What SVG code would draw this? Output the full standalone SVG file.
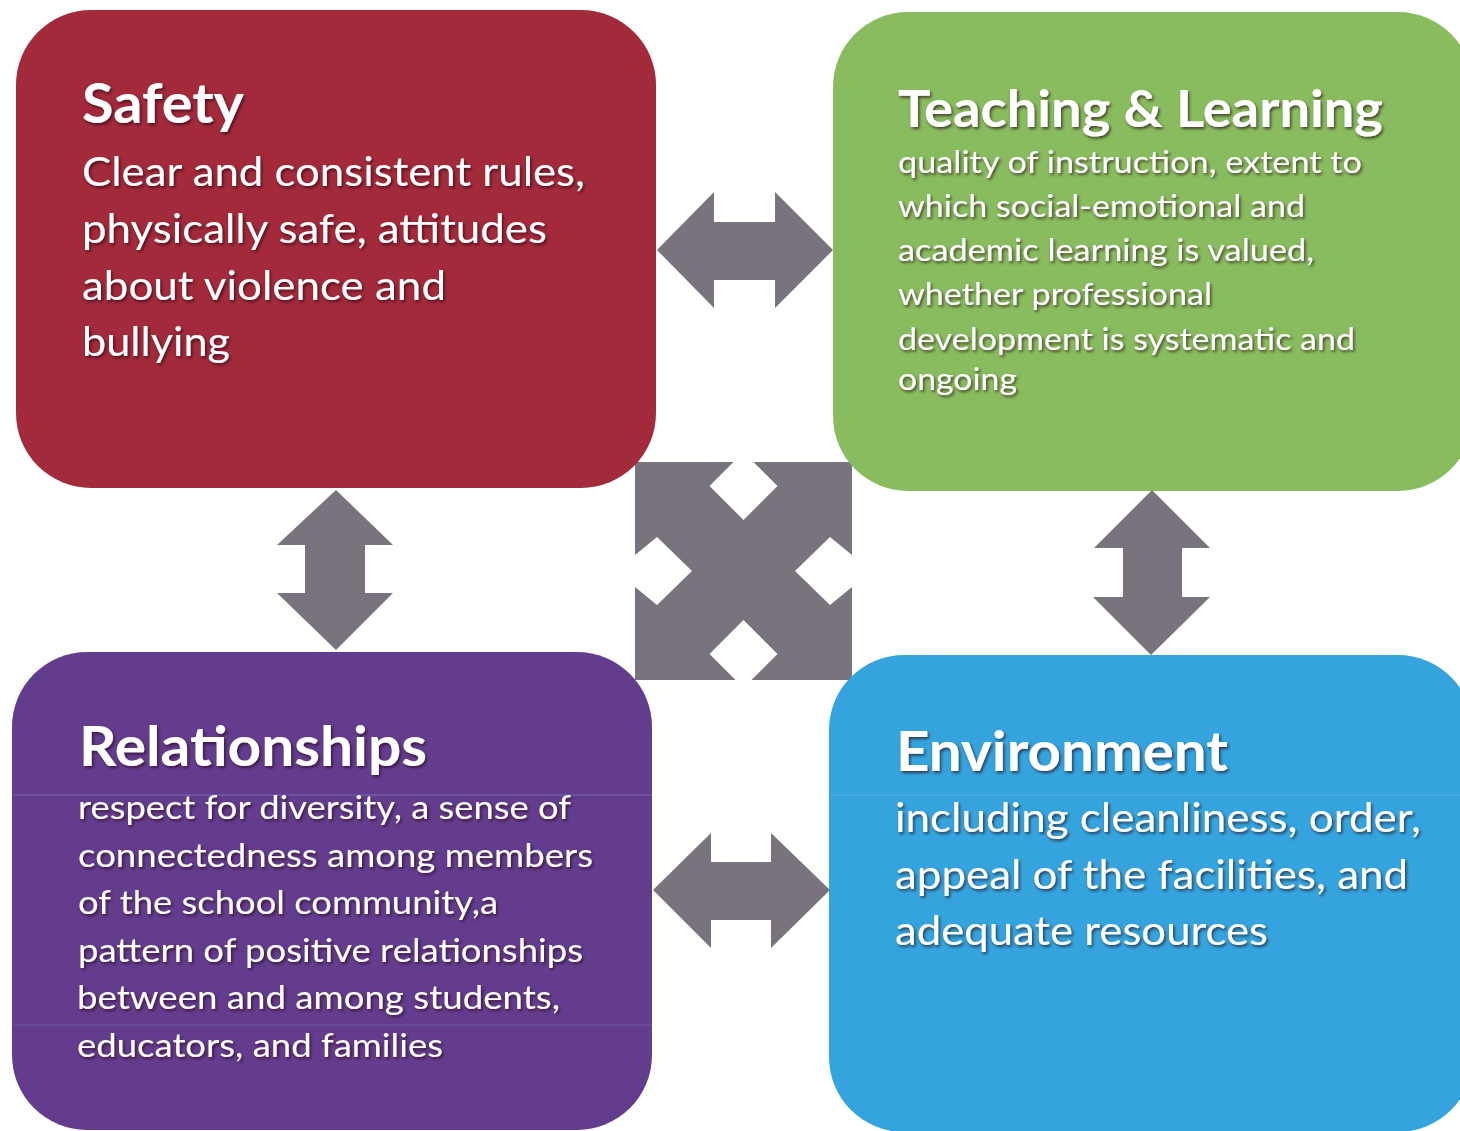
<svg xmlns="http://www.w3.org/2000/svg" width="1460" height="1131" viewBox="0 0 1460 1131">
<defs>
<filter id="sh" x="-5%" y="-20%" width="110%" height="140%">
<feDropShadow dx="1.5" dy="2" stdDeviation="1.6" flood-color="#200010" flood-opacity="0.65"/>
</filter>
<style>
.box{stroke:none}
.t{font-family:Lato,"Open Sans","Noto Sans",sans-serif;fill:#ffffff;filter:url(#sh)}
.h{font-weight:bold}
.arr{fill:#78737d}
.scan{stroke-width:1.5;fill:none}
</style>
</defs>
<rect width="1460" height="1131" fill="#ffffff"/>

<g id="connectors">
<polygon class="arr" points="657,250 714,192 714,222 775,222 775,192 833,250 775,308 775,280 714,280 714,308"/>
<polygon class="arr" points="336,490 393,545 365,545 365,593 393,593 336,650 277,593 305,593 305,545 277,545"/>
<polygon class="arr" points="1152,490 1210,548 1182,548 1182,597 1210,597 1151,655 1093,597 1123,597 1123,548 1094,548"/>
<polygon class="arr" points="653,890 711,833 711,862 771,862 771,833 830,890 771,948 771,920 711,920 711,948"/>
<path class="arr" d="M635,462 L733.5,462 L709.5,486 L743.5,520 L777.5,486 L753.5,462 L852,462 L852,555 L830,537 L795,571 L830,605 L852,587 L852,680 L751.5,680 L777.5,654 L743.5,620 L709.5,654 L735.5,680 L635,680 L635,587 L657,605 L692,571 L657,537 L635,555 Z"/>
</g>

<g id="safety">
<rect class="box" x="16" y="10" width="640" height="478" rx="75" fill="#a32a3b"/>
<text class="t h" x="82" y="123" font-size="55" textLength="162" lengthAdjust="spacingAndGlyphs">Safety</text>
<text class="t" x="82" y="186" font-size="41" textLength="503" lengthAdjust="spacingAndGlyphs">Clear and consistent rules,</text>
<text class="t" x="82" y="243" font-size="41" textLength="465" lengthAdjust="spacingAndGlyphs">physically safe, attitudes</text>
<text class="t" x="82" y="300" font-size="41" textLength="364" lengthAdjust="spacingAndGlyphs">about violence and</text>
<text class="t" x="82" y="356" font-size="41" textLength="148" lengthAdjust="spacingAndGlyphs">bullying</text>
</g>

<g id="teaching">
<rect class="box" x="833" y="12" width="640" height="479" rx="75" fill="#89bc5f"/>
<text class="t h" x="898" y="127" font-size="51" textLength="485" lengthAdjust="spacingAndGlyphs">Teaching &amp; Learning</text>
<text class="t" x="898" y="173" font-size="31" textLength="464" lengthAdjust="spacingAndGlyphs">quality of instruction, extent to</text>
<text class="t" x="898" y="217" font-size="31" textLength="407" lengthAdjust="spacingAndGlyphs">which social-emotional and</text>
<text class="t" x="898" y="261" font-size="31" textLength="416" lengthAdjust="spacingAndGlyphs">academic learning is valued,</text>
<text class="t" x="898" y="305" font-size="31" textLength="314" lengthAdjust="spacingAndGlyphs">whether professional</text>
<text class="t" x="898" y="350" font-size="31" textLength="457" lengthAdjust="spacingAndGlyphs">development is systematic and</text>
<text class="t" x="898" y="390" font-size="31" textLength="119" lengthAdjust="spacingAndGlyphs">ongoing</text>
</g>

<g id="relationships">
<rect class="box" x="12" y="652" width="640" height="478" rx="75" fill="#643c8e"/>
<line class="scan" x1="14" y1="795" x2="652" y2="795" stroke="#7a6fb8" stroke-opacity="0.6"/>
<line class="scan" x1="14" y1="1025" x2="652" y2="1025" stroke="#7a6fb8" stroke-opacity="0.4"/>
<text class="t h" x="79" y="766" font-size="55" textLength="348" lengthAdjust="spacingAndGlyphs">Relationships</text>
<text class="t" x="78" y="819" font-size="33" textLength="493" lengthAdjust="spacingAndGlyphs">respect for diversity, a sense of</text>
<text class="t" x="78" y="867" font-size="33" textLength="515" lengthAdjust="spacingAndGlyphs">connectedness among members</text>
<text class="t" x="78" y="914" font-size="33" textLength="420" lengthAdjust="spacingAndGlyphs">of the school community,a</text>
<text class="t" x="78" y="962" font-size="33" textLength="505" lengthAdjust="spacingAndGlyphs">pattern of positive relationships</text>
<text class="t" x="77" y="1009" font-size="33" textLength="483" lengthAdjust="spacingAndGlyphs">between and among students,</text>
<text class="t" x="77" y="1057" font-size="33" textLength="366" lengthAdjust="spacingAndGlyphs">educators, and families</text>
</g>

<g id="environment">
<rect class="box" x="829" y="655" width="644" height="477" rx="75" fill="#35a4de"/>
<line class="scan" x1="831" y1="795" x2="1460" y2="795" stroke="#55b5e6" stroke-opacity="0.6"/>
<text class="t h" x="896" y="771" font-size="55" textLength="332" lengthAdjust="spacingAndGlyphs">Environment</text>
<text class="t" x="895" y="832" font-size="41" textLength="526" lengthAdjust="spacingAndGlyphs">including cleanliness, order,</text>
<text class="t" x="895" y="889" font-size="41" textLength="513" lengthAdjust="spacingAndGlyphs">appeal of the facilities, and</text>
<text class="t" x="895" y="945" font-size="41" textLength="373" lengthAdjust="spacingAndGlyphs">adequate resources</text>
</g>
</svg>
